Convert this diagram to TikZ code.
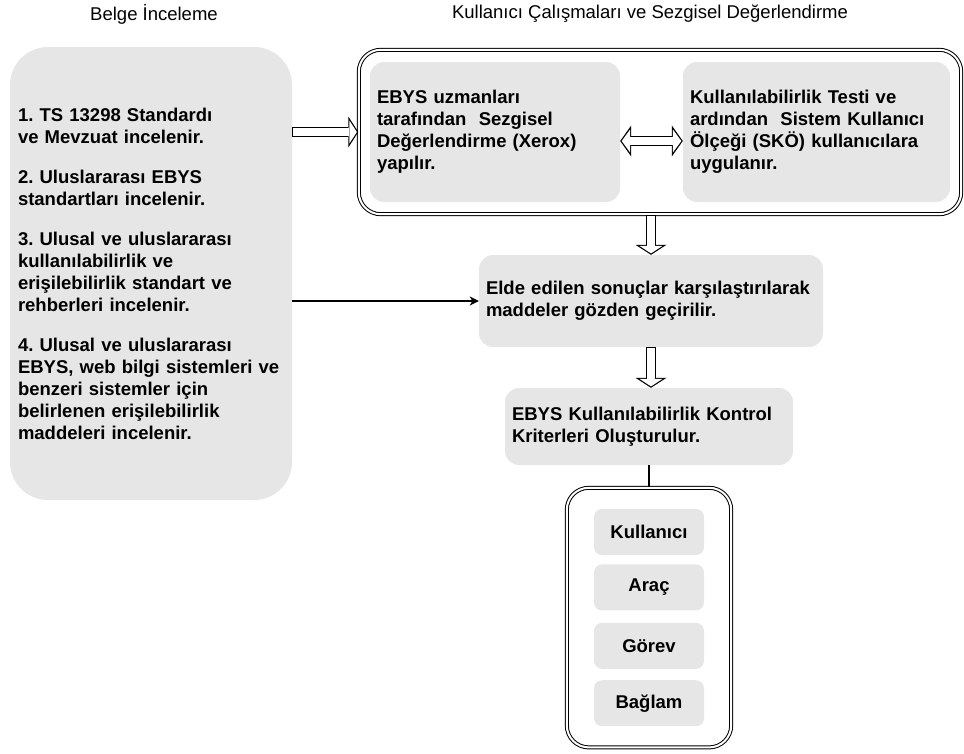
\documentclass[tikz,border=0pt]{standalone}
\usepackage{fontspec}
\setmainfont{Liberation Sans}
\usetikzlibrary{positioning,fit,arrows.meta}
\definecolor{boxgrey}{RGB}{230,230,230}
\frenchspacing

\tikzset{
  greybox/.style={fill=boxgrey, rounded corners=14pt, inner sep=7pt, align=left,
    font=\fontsize{18.5}{22}\selectfont\bfseries},
  item/.style={fill=boxgrey, rounded corners=8pt, minimum width=110pt, minimum height=46pt,
    font=\fontsize{18.5}{22}\selectfont\bfseries},
  frame/.style={draw, double, double distance=2pt, line width=1pt, rounded corners=22pt},
  title/.style={font=\fontsize{18.5}{22}\selectfont},
  hollow/.style={line width=10pt, -{Triangle[length=10pt, width=31pt, line width=0pt]},
    postaction={draw=white, line width=7.6pt, shorten <=1.2pt, shorten >=1.41pt,
      -{Triangle[length=7.4pt, width=22.6pt, line width=0pt]}}},
  hollowboth/.style={line width=10pt, {Triangle[length=11pt, width=31pt, line width=0pt]}-{Triangle[length=11pt, width=31pt, line width=0pt]},
    postaction={draw=white, line width=7.6pt, shorten <=1.5pt, shorten >=1.5pt,
      {Triangle[length=8.4pt, width=23pt, line width=0pt]}-{Triangle[length=8.4pt, width=23pt, line width=0pt]}}}
}

\begin{document}
\begin{tikzpicture}[x=1pt, y=-1pt]
  \useasboundingbox (0,0) rectangle (964,753);

  \node [title] (t1) at (154,14) {Belge İnceleme};
  \node [title] (t2) at (650,14) {Kullanıcı Çalışmaları ve Sezgisel Değerlendirme};

  \node [greybox, rounded corners=38pt, inner sep=8pt, text width=266pt, minimum height=453pt] (docs) at (151,273.5)
    {1. TS 13298 Standardı\\ ve Mevzuat incelenir.\\[18pt]
     2. Uluslararası EBYS\\ standartları incelenir.\\[18pt]
     3. Ulusal ve uluslararası\\ kullanılabilirlik ve\\ erişilebilirlik standart ve\\ rehberleri incelenir.\\[18pt]
     4. Ulusal ve uluslararası\\ EBYS, web bilgi sistemleri ve\\ benzeri sistemler için\\ belirlenen erişilebilirlik\\ maddeleri incelenir.};

  \node [greybox, text width=236pt, minimum height=140pt] (eval) at (495,132)
    {EBYS uzmanları\\ tarafından\ \ Sezgisel\\ Değerlendirme (Xerox)\\ yapılır.};
  \node [greybox, text width=253pt, minimum height=140pt] (usab) at (816.5,132)
    {Kullanılabilirlik Testi ve\\ ardından\ \ Sistem Kullanıcı\\ Ölçeği (SKÖ) kullanıcılara\\ uygulanır.};
  \node [frame, fit=(eval)(usab), inner xsep=11pt, inner ysep=12pt] (study) {};

  \node [greybox, text width=330pt, minimum height=92pt] (compare) at (651,301)
    {Elde edilen sonuçlar karşılaştırılarak\\ maddeler gözden geçirilir.};
  \node [greybox, text width=274pt, minimum height=77pt] (criteria) at (649,426.5)
    {EBYS Kullanılabilirlik Kontrol\\ Kriterleri Oluşturulur.};

  \node [item] (user) at (649,532) {Kullanıcı};
  \node [item, below=9pt of user] (tool) {Araç};
  \node [item, below=12pt of tool] (task) {Görev};
  \node [item, below=11pt of task] (context) {Bağlam};
  \node [frame, fit=(user)(context), inner xsep=27pt, inner ysep=21pt] (dims) {};

  \draw [hollow] (docs.east |- study.west) -- (study.west);
  \draw [hollowboth] ([yshift=-9pt]eval.east) -- ([yshift=-9pt]usab.west);
  \draw [hollow] (compare.north |- study.south) -- (compare.north);
  \draw [hollow] (compare.south) -- (compare.south |- criteria.north);
  \draw [line width=1.3pt, -{Stealth[length=9pt, width=9pt, inset=2.5pt]}] (docs.east |- compare.west) -- (compare.west);
  \draw [line width=1.3pt] (criteria) -- (dims);
\end{tikzpicture}
\end{document}
